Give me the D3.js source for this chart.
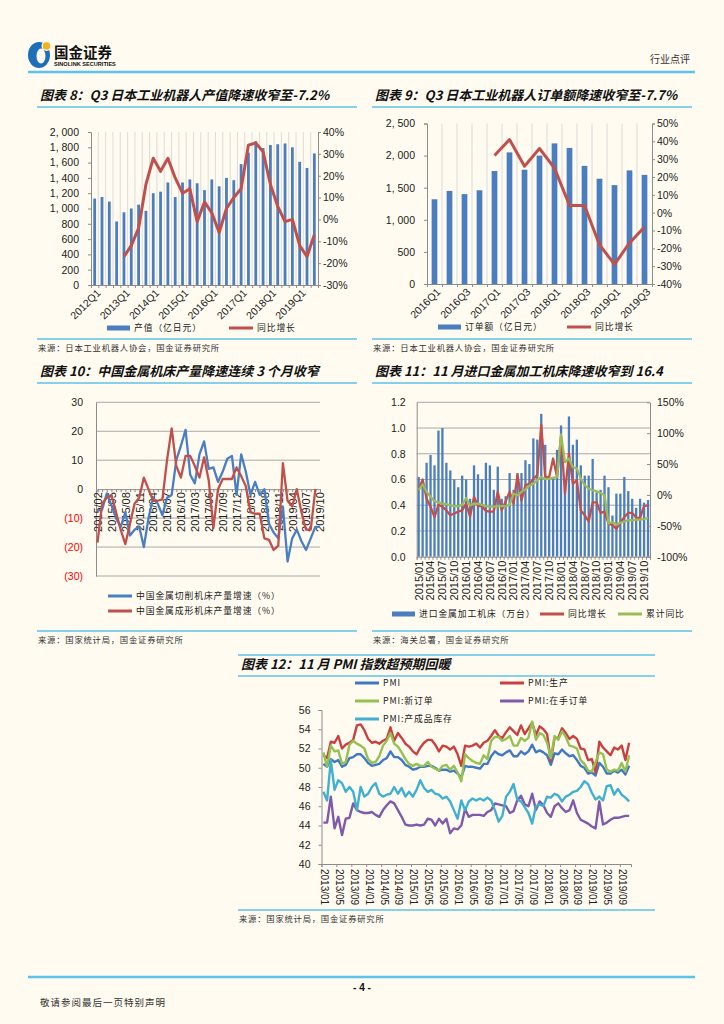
<!DOCTYPE html>
<html>
<head>
<meta charset="utf-8">
<script src="https://cdn.jsdelivr.net/npm/d3@7"></script>
<style>
  body { margin: 0; background: #fffbf0; }
</style>
</head>
<body>
<svg id="page" width="724" height="1024"></svg>
<script>
/**
 * CATEGORY HELPERS
 * */
function quarters(y0, q0, y1, q1) {
  const out = [];
  let y = y0, q = q0;
  while (y < y1 || (y === y1 && q <= q1)) {
    out.push(y + "Q" + q);
    q++;
    if (q > 4) { q = 1; y++; }
  }
  return out;
}
function months(y0, m0, y1, m1) {
  const out = [];
  let y = y0, m = m0;
  while (y < y1 || (y === y1 && m <= m1)) {
    out.push(y + "/" + String(m).padStart(2, "0"));
    m++;
    if (m > 12) { m = 1; y++; }
  }
  return out;
}

/**
 * DATA
 * */
// chart 8 : robot output value
const c8Quarters = quarters(2012, 1, 2019, 3);
const c8Output = [1130, 1150, 1090, 830, 950, 1000, 1050, 970, 1200, 1220, 1340, 1150,
  1340, 1380, 1330, 1240, 1380, 1290, 1400, 1370, 1580, 1730, 1880, 1790,
  1830, 1840, 1850, 1800, 1610, 1530, 1720];
const c8Yoy = [null, null, null, null, -17, -12, -4, 16, 28, 22, 28, 19,
  12, 14, -1, 8, 3, -6, 5, 10, 14, 34, 35, 31,
  16, 6, -1, 0, -12, -17, -7];

// chart 9 : robot orders
const c9Quarters = quarters(2016, 1, 2019, 3);
const c9Orders = [1320, 1450, 1400, 1460, 1760, 2050, 1780, 2000, 2190, 2120, 1840, 1640, 1540, 1770, 1700];
const c9Yoy = [null, null, null, null, 32, 41, 26, 36, 25, 4, 4, -18, -29, -17, -8];

// chart 10 : machine tool output growth
const c10Months = [].concat(months(2015, 2, 2015, 12), months(2016, 3, 2016, 12),
  months(2017, 3, 2017, 12), months(2018, 3, 2018, 12), months(2019, 3, 2019, 10));
const c10Cutting = [-7.5, -7, -1.5, -5.5, -10, -13, -8, -16, -14, -13, -20, -10,
  -3, -5, -9, -3, -2, 10, 15, 20.5, 5, 2, 12, 16.5,
  7, 7.5, 2.5, 6, 10.5, 11.5, -2, 12, 6, -2, 2.5, -2,
  0, -12, -15, -17, -6, -25, -17, -14, -18, -21, -17, -13, -13];
const c10Forming = [-18.5, -5, -3, -2, -8, -14, -19, -12, -5, -3, 4, 0,
  -4, -4, -3.5, 10, 21, 8, 4, 11.5, 11.5, 8, 4, 11,
  3, -13.5, 0, 3.5, 3.5, 3.5, 7.5, 4.5, 1, -8, -8.5, -8.5,
  -17, -17.5, -21, -19.5, 9, -4, -6, 0, -8, -14, -14, 0, null];

// chart 11 : imported metal working machine tools
const c11Months = months(2015, 1, 2019, 11);
const c11Units = [0.62, 0.60, 0.73, 0.79, 0.71, 0.98, 1.00, 0.73, 0.67, 0.60, 0.54, 0.63,
  0.60, 0.45, 0.71, 0.64, 0.60, 0.73, 0.71, 0.52, 0.70, 0.45, 0.47, 0.65,
  0.52, 0.65, 0.65, 0.75, 0.72, 0.92, 0.91, 1.11, 0.87, 0.60, 0.62, 0.83,
  1.02, 0.55, 1.09, 0.87, 0.91, 0.71, 0.63, 0.63, 0.76, 0.50, 0.52, 0.63,
  0.54, 0.32, 0.49, 0.49, 0.62, 0.51, 0.45, 0.38, 0.45, 0.42, 0.44];
const c11Yoy = [8, 25, -6, -19, -36, -16, -19, -25, -33, -30, -27, -25,
  -14, -35, -3, -18, -18, -26, -27, -27, 5, -25, -10, 5,
  -14, 33, -9, 16, 18, 26, 32, 114, 29, 29, 59, 29,
  95, 2, 67, 18, 24, -25, -33, -43, -12, -12, -29, -27,
  -46, -49, -55, -44, -36, -29, -29, -37, -37, -18, -17];
const c11Cum = [8, 17, 5, -3, -10, -12, -14, -15, -17, -18, -18, -16,
  -5, -17, -14, -14, -16, -18, -19, -19, -18, -18, -18, -16,
  2, -0.5, 5, 9, 15, 18, 24, 29, 26, 26, 27.5, 29,
  98, 53, 59, 45, 43, 26, 16, 10, 7.6, 6, 3, -0.5,
  -46, -44, -48, -45, -43, -41, -41, -40, -40, -39, -37];

// chart 12 : PMI
const pmiMonths = months(2013, 1, 2019, 11);
const pmi = [50.4, 50.1, 50.9, 50.6, 50.8, 50.1, 50.3, 51.0, 51.1, 51.4, 51.4, 51.0,
  50.5, 50.2, 50.3, 50.4, 50.8, 51.0, 51.7, 51.1, 51.1, 50.8, 50.3, 50.1,
  49.8, 49.9, 50.1, 50.1, 50.2, 50.2, 50.0, 49.7, 49.8, 49.8, 49.6, 49.7,
  49.4, 49.0, 50.2, 50.1, 50.1, 50.0, 49.9, 50.4, 50.4, 51.2, 51.7, 51.4,
  51.3, 51.6, 51.8, 51.2, 51.2, 51.7, 51.4, 51.7, 52.4, 51.6, 51.8, 51.6,
  51.3, 50.3, 51.5, 51.4, 51.9, 51.5, 51.2, 51.3, 50.8, 50.2, 50.0, 49.4,
  49.5, 49.2, 50.5, 50.1, 49.4, 49.4, 49.7, 49.5, 49.8, 49.3, 50.2];
const pmiProduction = [51.3, 51.0, 52.7, 52.6, 53.3, 52.0, 52.4, 52.6, 52.9, 54.4, 54.5, 53.9,
  53.0, 52.6, 52.7, 52.5, 52.8, 53.0, 54.2, 52.8, 53.6, 53.1, 52.5, 52.2,
  51.7, 51.4, 52.1, 52.6, 52.9, 52.9, 52.4, 51.7, 52.3, 52.2, 51.9, 52.2,
  51.4, 50.2, 52.3, 52.2, 52.3, 52.5, 52.1, 52.6, 52.8, 53.3, 53.9, 53.3,
  53.1, 53.7, 54.2, 53.8, 53.4, 54.4, 53.5, 54.1, 54.7, 53.4, 54.3, 54.0,
  53.5, 50.7, 53.1, 53.1, 54.1, 53.6, 53.0, 53.3, 53.0, 52.0, 51.9, 50.8,
  50.9, 49.5, 52.7, 52.1, 51.7, 51.3, 52.1, 51.9, 52.3, 50.8, 52.6];
const pmiNewOrders = [51.6, 50.1, 52.3, 51.7, 51.8, 50.4, 50.6, 52.4, 52.8, 52.5, 52.3, 52.0,
  50.9, 50.5, 50.6, 51.2, 52.3, 52.8, 53.6, 52.5, 52.2, 51.6, 50.9, 50.4,
  50.2, 50.4, 50.2, 50.2, 50.6, 50.1, 49.9, 49.7, 50.2, 50.3, 49.8, 50.2,
  49.5, 48.6, 51.4, 51.0, 50.7, 50.5, 50.4, 51.3, 50.9, 52.8, 53.2, 53.2,
  52.8, 53.0, 53.3, 52.3, 52.3, 53.1, 52.8, 53.1, 54.8, 52.9, 53.6, 53.4,
  52.6, 51.0, 53.3, 52.9, 53.8, 53.2, 52.3, 52.2, 52.0, 50.8, 50.4, 49.7,
  49.6, 50.6, 51.6, 51.4, 49.8, 49.6, 49.8, 49.7, 50.5, 49.6, 51.3];
const pmiBacklog = [44.3, 44.3, 47.0, 43.7, 44.9, 43.0, 44.7, 44.8, 46.3, 45.6, 45.4, 45.3,
  45.3, 45.4, 45.1, 44.9, 45.6, 46.1, 46.5, 46.3, 45.6, 44.9, 44.1, 44.0,
  44.0, 44.1, 44.0, 44.1, 44.7, 44.6, 44.0, 44.7, 44.2, 44.7, 43.2, 43.7,
  43.6, 44.0, 45.7, 44.9, 45.1, 45.1, 45.1, 45.0, 45.4, 45.6, 46.3, 46.2,
  46.1, 46.0, 45.3, 45.5, 46.6, 47.1, 46.2, 46.0, 47.3, 45.6, 46.5, 46.1,
  45.3, 44.9, 46.0, 46.3, 45.8, 45.4, 45.6, 46.6, 45.3, 44.6, 44.4, 44.2,
  43.9, 43.7, 46.5, 44.1, 44.3, 44.6, 44.8, 44.8, 44.9, 45.0, 45.0];
const pmiInventory = [47.5, 46.6, 50.8, 47.7, 48.7, 48.4, 47.5, 48.0, 47.5, 45.6, 48.0, 47.0,
  47.3, 48.0, 48.4, 47.3, 47.0, 47.2, 47.3, 48.0, 47.3, 47.9, 47.0, 47.5,
  47.0, 47.7, 48.7, 47.9, 47.5, 47.7, 47.3, 47.2, 46.8, 47.0, 46.5, 45.6,
  44.7, 46.6, 45.6, 46.5, 46.8, 46.6, 46.8, 46.6, 46.9, 46.6, 45.6, 44.4,
  45.0, 47.0, 47.5, 48.3, 46.7, 46.5, 45.9, 45.3, 44.2, 46.0, 46.2, 46.0,
  47.0, 46.9, 47.3, 47.1, 46.5, 47.0, 47.2, 47.5, 47.6, 48.0, 48.6, 48.3,
  47.4, 46.7, 47.0, 46.6, 48.1, 48.2, 47.2, 47.8, 47.2, 46.9, 46.5];

/**
 * STYLE
 * */
const CJK = '"Noto Sans CJK SC", "Noto Sans", sans-serif';
const LAT = '"Liberation Sans", Arial, sans-serif';
const RULE = "#5cc3ea";
const BAR = "#4a7ebf";
const RED = "#c0504d";
const AXIS = "#8c8c8c";

const svg = d3.select("#page");
svg.append("rect").attr("width", 724).attr("height", 1024).attr("fill", "#fffbf0");

function hline(x1, x2, y, w) {
  svg.append("line").attr("x1", x1).attr("x2", x2).attr("y1", y).attr("y2", y)
    .attr("stroke", RULE).attr("stroke-width", w);
}
function chartTitle(x1, x2, y, txt) {
  svg.append("text").attr("x", x1 + 3).attr("y", y).attr("dy", "0.36em")
    .attr("font-family", CJK).attr("font-weight", "bold").attr("font-style", "italic")
    .attr("font-size", 13).attr("fill", "#111").text(txt);
  hline(x1, x2, y + 12, 1.5);
}
function source(x1, x2, y, txt) {
  hline(x1, x2, y, 1.5);
  svg.append("text").attr("x", x1 + 1).attr("y", y + 9).attr("dy", "0.36em")
    .attr("font-family", CJK).attr("font-size", 8.3).attr("letter-spacing", 0.8)
    .attr("fill", "#333").text(txt);
}
function legendText(x, y, label) {
  svg.append("text").attr("x", x).attr("y", y).attr("dy", "0.36em")
    .attr("font-family", CJK).attr("font-size", 8.8).attr("letter-spacing", 0.9)
    .attr("fill", "#222").text(label);
}
function legendRect(x, y, color, label) {
  svg.append("rect").attr("x", x).attr("y", y - 2.5).attr("width", 23).attr("height", 5).attr("fill", color);
  legendText(x + 27, y, label);
}
function legendLine(x, y, color, label) {
  svg.append("line").attr("x1", x).attr("x2", x + 24).attr("y1", y).attr("y2", y)
    .attr("stroke", color).attr("stroke-width", 3);
  legendText(x + 28, y, label);
}
function styleAxis(g, size) {
  g.selectAll("text").attr("font-family", LAT).attr("font-size", size).attr("fill", "#222");
  g.selectAll("line, path").attr("stroke", AXIS);
}

/**
 * HEADER / FOOTER
 * */
svg.append("ellipse").attr("cx", 39).attr("cy", 55).attr("rx", 11).attr("ry", 13).attr("fill", "#1d6fb8");
svg.append("ellipse").attr("cx", 41).attr("cy", 56).attr("rx", 4.5).attr("ry", 7.5).attr("fill", "#fffbf0");
svg.append("circle").attr("cx", 46.5).attr("cy", 46).attr("r", 5).attr("fill", "#fffbf0");
svg.append("circle").attr("cx", 46.5).attr("cy", 46).attr("r", 3.8).attr("fill", "#f2b21c");
svg.append("text").attr("x", 54).attr("y", 58).attr("font-family", CJK).attr("font-weight", "bold")
  .attr("font-size", 14.5).attr("fill", "#111").text("国金证券");
svg.append("text").attr("x", 54).attr("y", 66).attr("font-family", LAT).attr("font-weight", "bold")
  .attr("font-size", 5.6).attr("fill", "#111").text("SINOLINK SECURITIES");
svg.append("text").attr("x", 690).attr("y", 59).attr("dy", "0.36em").attr("text-anchor", "end")
  .attr("font-family", CJK).attr("font-size", 10).attr("fill", "#333").text("行业点评");
hline(28, 695, 72, 2.5);

hline(28, 695, 977, 2.5);
svg.append("text").attr("x", 362).attr("y", 987).attr("dy", "0.36em").attr("text-anchor", "middle")
  .attr("font-family", LAT).attr("font-weight", "bold").attr("font-size", 10).attr("fill", "#111").text("- 4 -");
svg.append("text").attr("x", 40).attr("y", 1003).attr("dy", "0.36em")
  .attr("font-family", CJK).attr("font-size", 9.5).attr("letter-spacing", 1).attr("fill", "#333")
  .text("敬请参阅最后一页特别声明");

/**
 * QUARTERLY BAR + LINE CHARTS (8, 9)
 * */
function quarterChart(o) {
  const n = o.cats.length, p = o.pad;
  const x = d3.scaleBand().domain(o.cats).range([o.x0, o.x1]).paddingInner(p).paddingOuter(p / 2);
  const xb = d3.scaleLinear().domain([0, n]).range([o.x0, o.x1]);
  const yL = d3.scaleLinear().domain([0, o.lMax]).range([o.yB, o.yT]);
  const yR = d3.scaleLinear().domain([o.rMin, o.rMax]).range([o.yB, o.yT]);

  svg.append("g").selectAll("line").data(d3.range(1, n)).join("line")
    .attr("x1", d => xb(d)).attr("x2", d => xb(d)).attr("y1", o.yT).attr("y2", o.yB)
    .attr("stroke", "#d4d4d4").attr("stroke-width", 0.8);

  svg.append("g").selectAll("rect").data(o.bars).join("rect")
    .attr("x", (d, i) => x(o.cats[i])).attr("width", x.bandwidth())
    .attr("y", d => yL(d)).attr("height", d => o.yB - yL(d)).attr("fill", BAR);

  const line = d3.line().defined(d => d != null)
    .x((d, i) => x(o.cats[i]) + x.bandwidth() / 2).y(d => yR(d));
  svg.append("path").datum(o.yoy).attr("d", line).attr("fill", "none")
    .attr("stroke", RED).attr("stroke-width", 3).attr("stroke-linejoin", "round");

  const gl = svg.append("g").attr("transform", `translate(${o.x0},0)`)
    .call(d3.axisLeft(yL).tickValues(d3.range(0, o.lMax + 1, o.lStep)).tickSize(3).tickPadding(9)
      .tickFormat(d => d3.format(",")(d).replace(",", ", ")));
  const gr = svg.append("g").attr("transform", `translate(${o.x1},0)`)
    .call(d3.axisRight(yR).tickValues(d3.range(o.rMin, o.rMax + 1, o.rStep)).tickSize(3).tickPadding(2)
      .tickFormat(d => d + "%"));
  const gb = svg.append("g").attr("transform", `translate(0,${o.yB})`)
    .call(d3.axisBottom(xb).tickValues(d3.range(0, n + 1)).tickSize(3).tickFormat(""));
  const gx = svg.append("g").attr("transform", `translate(0,${o.yB})`)
    .call(d3.axisBottom(x).tickValues(o.cats.filter((d, i) => i % o.every === 0)).tickSize(0));
  gx.select(".domain").remove();
  [gl, gr, gb, gx].forEach(g => styleAxis(g, 10.5));
  gx.selectAll("text").attr("transform", "translate(4,6) rotate(-45)")
    .attr("x", 0).attr("y", 0).attr("dy", "0.35em").style("text-anchor", "end");
}

// chart 8
chartTitle(37, 357, 95, "图表 8：Q3 日本工业机器人产值降速收窄至-7.2%");
quarterChart({ cats: c8Quarters, bars: c8Output, yoy: c8Yoy, pad: 0.62,
  x0: 91, x1: 318, yT: 132, yB: 285, lMax: 2000, lStep: 200,
  rMin: -30, rMax: 40, rStep: 10, every: 4 });
legendRect(107, 328, BAR, "产值（亿日元）");
legendLine(229, 328, RED, "同比增长");
source(37, 357, 339, "来源：日本工业机器人协会，国金证券研究所");

// chart 9
chartTitle(372, 692, 95, "图表 9：Q3 日本工业机器人订单额降速收窄至-7.7%");
quarterChart({ cats: c9Quarters, bars: c9Orders, yoy: c9Yoy, pad: 0.62,
  x0: 427, x1: 652, yT: 123.5, yB: 284, lMax: 2500, lStep: 500,
  rMin: -40, rMax: 50, rStep: 10, every: 2 });
legendRect(438, 327, BAR, "订单额（亿日元）");
legendLine(567, 327, RED, "同比增长");
source(372, 692, 339, "来源：日本工业机器人协会，国金证券研究所");

/**
 * CHART 10
 * */
chartTitle(37, 357, 371, "图表 10：中国金属机床产量降速连续 3 个月收窄");
{
  const x = d3.scalePoint().domain(c10Months).range([97.5, 320]);
  const y = d3.scaleLinear().domain([-30, 30]).range([576, 402.3]);
  svg.append("g").selectAll("line").data([-30, -20, -10, 10, 20, 30]).join("line")
    .attr("x1", 96).attr("x2", 320).attr("y1", d => y(d)).attr("y2", d => y(d))
    .attr("stroke", "#a9a9a9").attr("stroke-width", 1);
  const gl = svg.append("g").attr("transform", "translate(96,0)")
    .call(d3.axisLeft(y).tickValues(d3.range(-30, 31, 10)).tickSize(0).tickPadding(13)
      .tickFormat(d => d < 0 ? `(${-d})` : d));
  const gz = svg.append("g").attr("transform", `translate(0,${y(0)})`)
    .call(d3.axisBottom(x).tickSize(3).tickFormat(""));
  const gx = svg.append("g").attr("transform", `translate(0,${y(0)})`)
    .call(d3.axisBottom(x).tickValues(c10Months.filter((d, i) => i % 3 === 0)).tickSize(0));
  gx.select(".domain").remove();
  [gl, gz].forEach(g => styleAxis(g, 10.5));
  styleAxis(gx, 11);
  gl.selectAll("text").attr("fill", d => d < 0 ? "#ff0000" : "#222");
  gx.selectAll("text").attr("transform", "translate(0,3) rotate(-90)")
    .attr("x", 0).attr("y", 0).attr("dy", "0.35em").style("text-anchor", "end");

  const line = d3.line().defined(d => d != null).x((d, i) => x(c10Months[i])).y(d => y(d));
  svg.append("path").datum(c10Cutting).attr("d", line).attr("fill", "none")
    .attr("stroke", "#4a7fc1").attr("stroke-width", 2.3).attr("stroke-linejoin", "round");
  svg.append("path").datum(c10Forming).attr("d", line).attr("fill", "none")
    .attr("stroke", RED).attr("stroke-width", 2.3).attr("stroke-linejoin", "round");
}
legendLine(108, 596, "#4a7fc1", "中国金属切削机床产量增速（%）");
legendLine(108, 611, RED, "中国金属成形机床产量增速（%）");
source(37, 357, 631, "来源：国家统计局，国金证券研究所");

/**
 * CHART 11
 * */
chartTitle(372, 692, 371, "图表 11：11 月进口金属加工机床降速收窄到 16.4");
{
  const x = d3.scaleBand().domain(c11Months).range([416.7, 650]).paddingInner(0.42).paddingOuter(0.21);
  const xb = d3.scaleLinear().domain([0, c11Months.length]).range([416.7, 650]);
  const yL = d3.scaleLinear().domain([0, 1.2]).range([556.7, 402.3]);
  const yR = d3.scaleLinear().domain([-100, 150]).range([556.7, 402.3]);
  svg.append("g").selectAll("line").data(d3.range(0.2, 1.21, 0.2)).join("line")
    .attr("x1", 416.7).attr("x2", 650).attr("y1", d => yL(d)).attr("y2", d => yL(d))
    .attr("stroke", "#a9a9a9").attr("stroke-width", 1);
  svg.append("g").selectAll("rect").data(c11Units).join("rect")
    .attr("x", (d, i) => x(c11Months[i])).attr("width", x.bandwidth())
    .attr("y", d => yL(d)).attr("height", d => yL(0) - yL(d)).attr("fill", BAR);

  const gl = svg.append("g").attr("transform", "translate(416.7,0)")
    .call(d3.axisLeft(yL).tickValues(d3.range(0, 1.21, 0.2)).tickSize(0).tickPadding(11)
      .tickFormat(d3.format(".1f")));
  const gr = svg.append("g").attr("transform", "translate(650,0)")
    .call(d3.axisRight(yR).tickValues(d3.range(-100, 151, 50)).tickSizeInner(-3).tickSizeOuter(0).tickPadding(7)
      .tickFormat(d => d + "%"));
  const gb = svg.append("g").attr("transform", `translate(0,${yL(0)})`)
    .call(d3.axisBottom(xb).tickValues(d3.range(0, c11Months.length + 1)).tickSize(3).tickFormat(""));
  const gx = svg.append("g").attr("transform", `translate(0,${yL(0)})`)
    .call(d3.axisBottom(x).tickValues(c11Months.filter((d, i) => i % 3 === 0)).tickSize(0));
  gx.select(".domain").remove();
  [gl, gr, gb].forEach(g => styleAxis(g, 10.5));
  styleAxis(gx, 11);
  gx.selectAll("text").attr("transform", "translate(0,4) rotate(-90)")
    .attr("x", 0).attr("y", 0).attr("dy", "0.35em").style("text-anchor", "end");

  const cx = i => x(c11Months[i]) + x.bandwidth() / 2;
  const line = d3.line().x((d, i) => cx(i)).y(d => yR(d));
  svg.append("path").datum(c11Yoy).attr("d", line).attr("fill", "none")
    .attr("stroke", RED).attr("stroke-width", 2.3).attr("stroke-linejoin", "round");
  svg.append("path").datum(c11Cum).attr("d", line).attr("fill", "none")
    .attr("stroke", "#9bbb59").attr("stroke-width", 2.3).attr("stroke-linejoin", "round");
}
legendRect(392, 614, BAR, "进口金属加工机床（万台）");
legendLine(540, 614, RED, "同比增长");
legendLine(618, 614, "#9bbb59", "累计同比");
source(372, 692, 631, "来源：海关总署，国金证券研究所");

/**
 * CHART 12
 * */
hline(238, 655, 655, 1.5);
chartTitle(238, 655, 664, "图表 12：11 月 PMI 指数超预期回暖");
{
  const x = d3.scaleBand().domain(pmiMonths).range([321.5, 631]);
  const xb = d3.scaleLinear().domain([0, pmiMonths.length]).range([321.5, 631]);
  const y = d3.scaleLinear().domain([40, 56]).range([864, 710]);
  const gl = svg.append("g").attr("transform", "translate(321.5,0)")
    .call(d3.axisLeft(y).tickValues(d3.range(40, 57, 2)).tickSize(3).tickPadding(8));
  const gb = svg.append("g").attr("transform", "translate(0,864)")
    .call(d3.axisBottom(xb).tickValues(d3.range(0, pmiMonths.length + 1, 4)).tickSize(3).tickFormat(""));
  const gx = svg.append("g").attr("transform", "translate(0,864)")
    .call(d3.axisBottom(x).tickValues(pmiMonths.filter((d, i) => i % 4 === 0)).tickSize(0));
  gx.select(".domain").remove();
  [gl, gb].forEach(g => styleAxis(g, 10.5));
  styleAxis(gx, 10);
  gx.selectAll("text").attr("transform", "translate(1,5) rotate(90)")
    .attr("x", 0).attr("y", 0).attr("dy", "0.35em").style("text-anchor", "start");

  const line = d3.line().x((d, i) => x(pmiMonths[i]) + x.bandwidth() / 2).y(d => y(d));
  const series = [
    { values: pmi, color: "#3f78c3" },
    { values: pmiProduction, color: "#c9403f" },
    { values: pmiNewOrders, color: "#95c152" },
    { values: pmiBacklog, color: "#7f5aa8" },
    { values: pmiInventory, color: "#3fb0cf" }
  ];
  svg.append("g").selectAll("path").data(series).join("path")
    .attr("d", d => line(d.values)).attr("fill", "none")
    .attr("stroke", d => d.color).attr("stroke-width", 2.4).attr("stroke-linejoin", "round");
}
legendLine(355, 683, "#3f78c3", "PMI");
legendLine(500, 683, "#c9403f", "PMI:生产");
legendLine(355, 701, "#95c152", "PMI:新订单");
legendLine(500, 701, "#7f5aa8", "PMI:在手订单");
legendLine(355, 719, "#3fb0cf", "PMI:产成品库存");
source(238, 655, 910, "来源：国家统计局，国金证券研究所");
</script>
</body>
</html>
